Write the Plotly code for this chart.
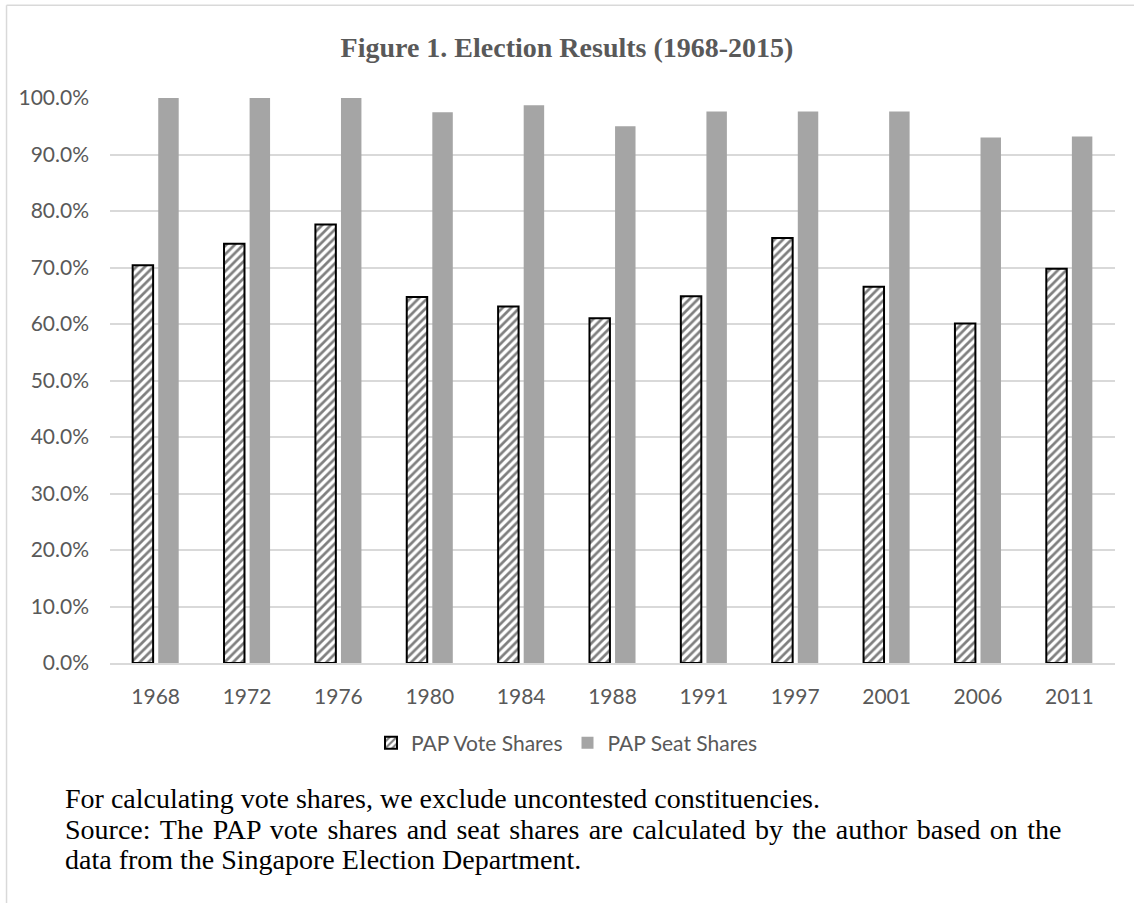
import plotly.graph_objects as go

# Election years and PAP results (percent)
years = ["1968", "1972", "1976", "1980", "1984", "1988", "1991", "1997", "2001", "2006", "2011"]
vote_shares = [70.4, 74.2, 77.6, 64.8, 63.1, 61.0, 64.9, 75.2, 66.6, 60.1, 69.8]
seat_shares = [100.0, 100.0, 100.0, 97.5, 98.7, 95.0, 97.6, 97.6, 97.6, 93.0, 93.2]

title_text = "Figure 1. Election Results (1968-2015)"
note_lines = [
    "For calculating vote shares, we exclude uncontested constituencies.",
    "Source: The PAP vote shares and seat shares are calculated by the author based on the",
    "data from the Singapore Election Department.",
]

W, H = 1134, 903
L, R, T, B = 110.4, 19.3, 97.7, 240.3
plot_w = W - L - R
plot_h = H - T - B


def px_x(x):
    return (x - L) / plot_w


def px_y(y):
    return (H - B - y) / plot_h


def justify(line):
    # widen every word gap by a hair space so the wrapped line fills the width
    return " \u200a".join(line.split(" "))


axis_font = dict(family="Lato, Open Sans, sans-serif", size=21, color="#595959")
serif = "Liberation Serif, Times New Roman, serif"

fig = go.Figure()
fig.add_trace(go.Bar(
    x=years, y=vote_shares, name="PAP Vote Shares",
    marker=dict(
        color="white",
        line=dict(color="black", width=2),
        pattern=dict(shape="/", fgcolor="black", bgcolor="white", size=6, solidity=0.45),
    ),
))
fig.add_trace(go.Bar(
    x=years, y=seat_shares, name="PAP Seat Shares",
    marker=dict(color="#A5A5A5", line=dict(width=0)),
))

drawn_lines = [note_lines[0], justify(note_lines[1]), note_lines[2]]
annotations = []
for line, ypx in zip(drawn_lines, [798, 829, 859]):
    annotations.append(dict(
        text=line, xref="paper", yref="paper", x=px_x(64), y=px_y(ypx),
        xanchor="left", yanchor="middle", showarrow=False, borderpad=0,
        font=dict(family=serif, size=28, color="black"),
    ))

shapes = [
    dict(type="line", xref="paper", yref="paper",
         x0=px_x(7), x1=px_x(7), y0=px_y(5), y1=px_y(903),
         line=dict(color="#D9D9D9", width=1.5)),
    dict(type="line", xref="paper", yref="paper",
         x0=px_x(7), x1=px_x(1134), y0=px_y(5), y1=px_y(5),
         line=dict(color="#D9D9D9", width=1.5)),
]

fig.update_layout(
    width=W, height=H,
    margin=dict(l=L, r=R, t=T, b=B, autoexpand=False),
    paper_bgcolor="white", plot_bgcolor="white",
    barmode="group", bargap=0.44, bargroupgap=0.2,
    title=dict(text="<b>" + title_text + "</b>", xref="container", x=0.5, xanchor="center",
               yref="container", y=1 - 47 / H, yanchor="middle",
               font=dict(family=serif, size=28, color="#595959")),
    xaxis=dict(showgrid=False, showline=True, linecolor="#D9D9D9", linewidth=1.5,
               ticks="", tickfont=axis_font, ticklabelstandoff=14),
    yaxis=dict(range=[0, 100], dtick=10, tickformat=".1f", ticksuffix="%",
               showgrid=True, gridcolor="#D9D9D9", gridwidth=1.5,
               zeroline=False, showline=False, ticks="",
               tickfont=axis_font, ticklabelstandoff=20),
    legend=dict(orientation="h", xref="container", x=0.5, xanchor="center",
                yref="container", y=1 - 743 / H, yanchor="middle",
                font=dict(family="Lato, Open Sans, sans-serif", size=21, color="#595959"),
                itemwidth=30, traceorder="normal"),
    annotations=annotations,
    shapes=shapes,
)

fig.write_html("out.html")
